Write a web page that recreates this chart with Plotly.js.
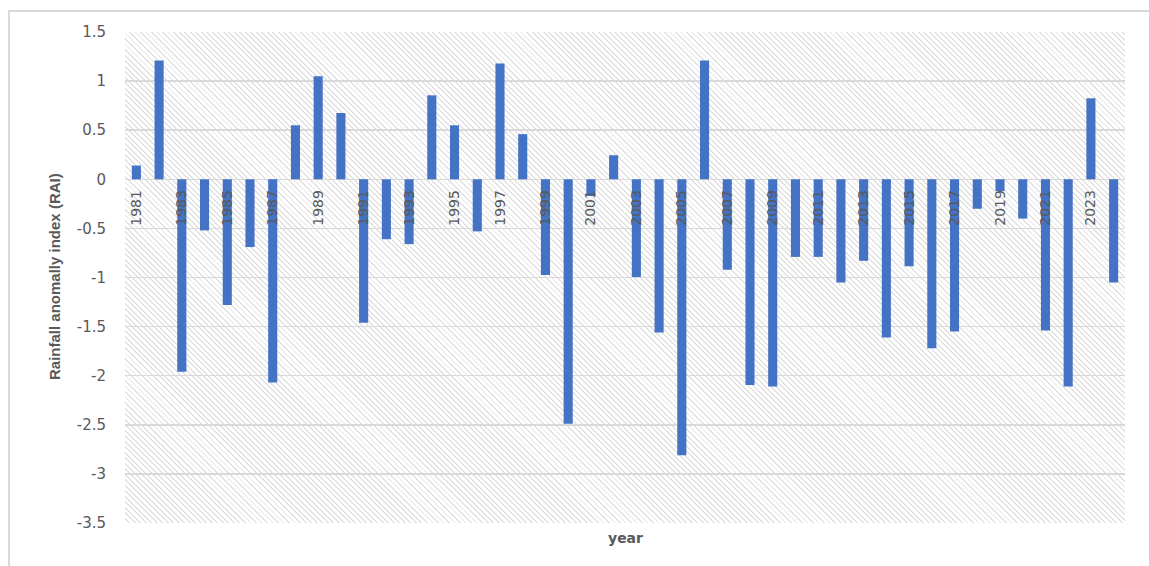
<!DOCTYPE html>
<html>
<head>
<meta charset="utf-8">
<script src="https://cdn.plot.ly/plotly-3.0.1.min.js"></script>
<style>
  html, body { margin: 0; padding: 0; background: #ffffff; }
  #wrap { position: relative; width: 1149px; height: 566px; overflow: hidden; background: #ffffff; }
  #frame { position: absolute; left: 8px; top: 10px; width: 1200px; height: 700px; border: 2px solid #d9d9d9; box-sizing: border-box; }
  #hatch { position: absolute; left: 125px; top: 32px; width: 1000px; height: 491px;
    background: repeating-linear-gradient(45deg, #ffffff 0px, #ffffff 2.6px, #e2e2e2 2.6px, #e2e2e2 3.9px); }
  #chart { position: absolute; left: 0; top: 0; width: 1149px; height: 566px; }
</style>
</head>
<body>
<div id="wrap">
  <div id="frame"></div>
  <div id="hatch"></div>
  <div id="chart"></div>
</div>
<script>
const years = ["1981","1982","1983","1984","1985","1986","1987","1988","1989","1990",
  "1991","1992","1993","1994","1995","1996","1997","1998","1999","2000",
  "2001","2002","2003","2004","2005","2006","2007","2008","2009","2010",
  "2011","2012","2013","2014","2015","2016","2017","2018","2019","2020",
  "2021","2022","2023","2024"];
const rai = [0.14, 1.21, -1.96, -0.52, -1.28, -0.69, -2.07, 0.55, 1.05, 0.675,
  -1.46, -0.61, -0.66, 0.855, 0.55, -0.53, 1.18, 0.46, -0.975, -2.49,
  -0.17, 0.245, -0.995, -1.56, -2.81, 1.21, -0.92, -2.095, -2.11, -0.79,
  -0.79, -1.05, -0.83, -1.61, -0.885, -1.72, -1.55, -0.30, -0.12, -0.40,
  -1.54, -2.11, 0.825, -1.05];
const xTickYears = ["1981","1983","1985","1987","1989","1991","1993","1995","1997","1999",
  "2001","2003","2005","2007","2009","2011","2013","2015","2017","2019","2021","2023"];
const yTickVals = [-3.5, -3, -2.5, -2, -1.5, -1, -0.5, 0, 0.5, 1, 1.5];
const yTickText = ["-3.5", "-3", "-2.5", "-2", "-1.5", "-1", "-0.5", "0", "0.5", "1", "1.5"];

const yMin = -3.5, yMax = 1.5;

const trace = {
  type: "bar",
  x: years,
  y: rai,
  marker: { color: "#4472C4" },
  hoverinfo: "x+y"
};

const layout = {
  width: 1149,
  height: 566,
  margin: { l: 125, r: 24, t: 32, b: 43 },
  paper_bgcolor: "rgba(0,0,0,0)",
  plot_bgcolor: "rgba(0,0,0,0)",
  bargap: 0.6,
  showlegend: false,
  font: { family: "DejaVu Sans, sans-serif", color: "#595959" },
  xaxis: {
    type: "category",
    anchor: "free",
    position: (0 - yMin) / (yMax - yMin),
    tickmode: "array",
    tickvals: xTickYears,
    ticktext: xTickYears,
    tickangle: -90,
    tickfont: { family: "DejaVu Sans, sans-serif", size: 14, color: "#595959" },
    showgrid: false,
    showline: false,
    zeroline: false,
    ticks: "",
    ticklabelstandoff: 7
  },
  yaxis: {
    range: [yMin, yMax],
    domain: [0, 1],
    tickmode: "array",
    tickvals: yTickVals,
    ticktext: yTickText,
    tickfont: { family: "DejaVu Sans, sans-serif", size: 15, color: "#595959" },
    showgrid: true,
    gridcolor: "#d9d9d9",
    gridwidth: 1.5,
    zeroline: false,
    showline: false,
    ticks: "",
    ticklabelstandoff: 18,
    title: { text: "" }
  },
  annotations: [
    {
      text: "Rainfall anomally index (RAI)",
      xref: "paper", yref: "paper",
      x: -71 / 1000, y: (523 - 277) / 491,
      xanchor: "center", yanchor: "middle",
      textangle: -90,
      showarrow: false,
      font: { family: "Liberation Sans, Arial, sans-serif", size: 15, color: "#595959", weight: "bold" }
    },
    {
      text: "year",
      xref: "paper", yref: "paper",
      x: 0.5, y: -15 / 491,
      xanchor: "center", yanchor: "middle",
      showarrow: false,
      font: { family: "DejaVu Sans, sans-serif", size: 14, color: "#595959", weight: "bold" }
    }
  ]
};

Plotly.newPlot("chart", [trace], layout, { displayModeBar: false, staticPlot: true });
</script>
</body>
</html>
